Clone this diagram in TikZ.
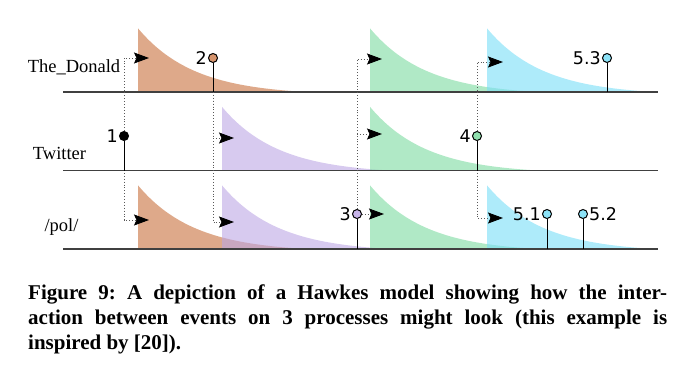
\documentclass[tikz,border=0pt]{standalone}
\usepackage{fontspec}
\setmainfont{Liberation Serif}
\newfontfamily\numfont{DejaVu Sans}
\usetikzlibrary{arrows.meta,positioning}
\definecolor{genone}{RGB}{200,112,60}
\definecolor{gentwo}{RGB}{188,166,228}
\definecolor{genthree}{RGB}{124,218,160}
\definecolor{genfour}{RGB}{120,222,247}

\begin{document}
\begin{tikzpicture}
		[x=1pt,y=-1pt,
		axis/.style ={draw=black!75, line width=1.4pt},
		stem/.style ={draw=black, line width=1pt},
		event/.style ={circle, draw=black, line width=1pt, minimum size=9pt, inner sep=0pt},
		excite/.style ={draw=black!65, dotted, line width=0.9pt, -{Stealth[length=15pt,width=11pt,inset=2.5pt,color=black]}},
		proc/.style ={font=\fontsize{18.5}{20}\selectfont, inner sep=0pt},
		num/.style ={font=\numfont\fontsize{17.5}{20}\selectfont, inner sep=1pt},
		caption/.style ={font=\bfseries\fontsize{21}{25}\selectfont\frenchspacing, inner sep=0pt, text width=639pt, align=justify}]
		\useasboundingbox (0,0) rectangle (698,380);

		% intensities after each excitation
		\foreach \xs/\yb/\col in {138/92/genone, 370/92/genthree, 487/92/genfour,
			222/170.5/gentwo, 370/170.5/genthree,
			138/249/genone, 222/249/gentwo, 370/249/genthree, 487/249/genfour}
			\fill[\col, fill opacity=0.6] (\xs,\yb) -- plot[domain=0:168, samples=50] ({\xs+\x},{\yb-67*(exp(-\x/56)-0.05)}) -- cycle;

		% process axes
		\coordinate (dnaxis) at (63,92);
		\coordinate (twaxis) at (63,170.5);
		\coordinate (polaxis) at (63,249);
		\draw[axis] (dnaxis) -- +(595,0);
		\draw[axis] (twaxis) -- +(595,0);
		\draw[axis] (polaxis) -- +(595,0);

		\node[proc, anchor=base] (donald) at (74,72) {The\_Donald};
		\node[proc, anchor=base] (twitter) at (59.5,159) {Twitter};
		\node[proc, anchor=base] (pol) at (61.5,231) {/pol/};

		% events
		\node[event, fill=black, label={[num]left:1}] (e1) at (124,136) {};
		\node[event, fill=genone!75, label={[num]left:2}] (e2) at (213,58) {};
		\node[event, fill=gentwo!85, label={[num]left:3}] (e3) at (357,214) {};
		\node[event, fill=genthree!85, label={[num]left:4}] (e4) at (477,136) {};
		\node[event, fill=genfour!85, label={[num]left:5.1}] (e51) at (547,214) {};
		\node[event, fill=genfour!85, label={[num]right:5.2}] (e52) at (583,214) {};
		\node[event, fill=genfour!85, label={[num]left:5.3}] (e53) at (607,58) {};

		% arrow tips where the excitations arrive
		\coordinate (a1top) at (149,58);
		\coordinate (a1pol) at (149,220);
		\coordinate (a2tw) at (234,138);
		\coordinate (a2pol) at (234,222);
		\coordinate (a3top) at (382,59);
		\coordinate (a3tw) at (382,134);
		\coordinate (a3pol) at (384,214);
		\coordinate (a4top) at (503,62);
		\coordinate (a4pol) at (503,218);

		\draw[excite] (e1) |- (a1top);
		\draw[excite] (e1) |- (a1pol);
		\draw[excite] (e2 |- dnaxis) |- (a2tw);
		\draw[excite] (e2 |- dnaxis) |- (a2pol);
		\draw[excite] (e3) |- (a3top);
		\draw[excite] (e3) |- (a3tw);
		\draw[excite] (e3) -- (a3pol);
		\draw[excite] (e4) |- (a4top);
		\draw[excite] (e4) |- (a4pol);

		% stems down to the axes
		\draw[stem] (e1) -- (e1 |- twaxis);
		\draw[stem] (e2) -- (e2 |- dnaxis);
		\draw[stem] (e3) -- (e3 |- polaxis);
		\draw[stem] (e4) -- (e4 |- twaxis);
		\draw[stem] (e51) -- (e51 |- polaxis);
		\draw[stem] (e52) -- (e52 |- polaxis);
		\draw[stem] (e53) -- (e53 |- dnaxis);

		\node[caption, anchor=north west] (cap) at (28,285) {Figure 9: A depiction of a Hawkes model showing how the inter-\linebreak action between events on 3 processes might look (this example is\linebreak inspired by [20]).};
	\end{tikzpicture}
\end{document}
